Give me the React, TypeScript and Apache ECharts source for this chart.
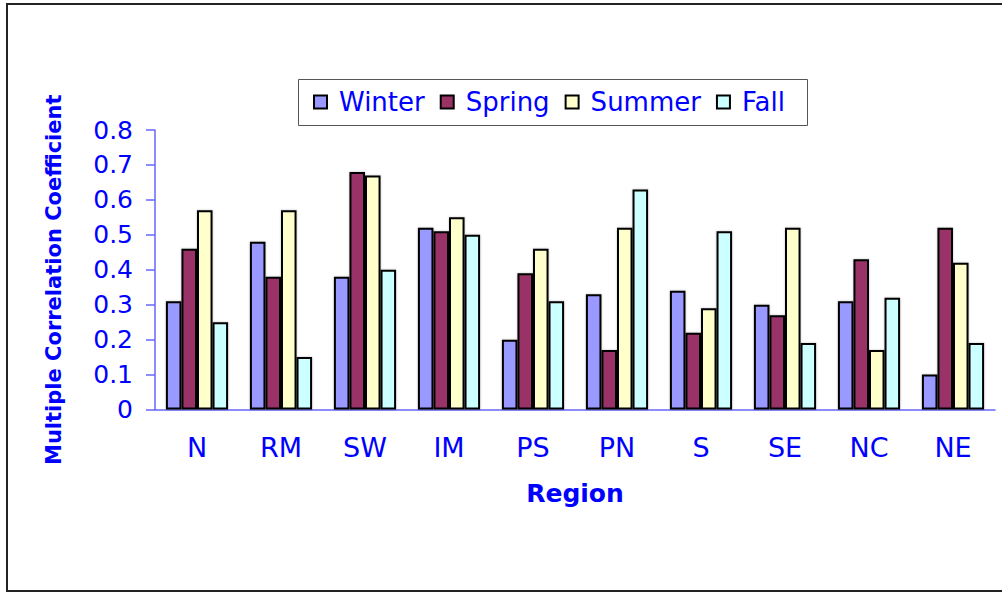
import React, { useEffect, useRef } from "react";
import * as echarts from "echarts";

const regions = ["N", "RM", "SW", "IM", "PS", "PN", "S", "SE", "NC", "NE"];
const winter = [0.31, 0.48, 0.38, 0.52, 0.2, 0.33, 0.34, 0.3, 0.31, 0.1];
const spring = [0.46, 0.38, 0.68, 0.51, 0.39, 0.17, 0.22, 0.27, 0.43, 0.52];
const summer = [0.57, 0.57, 0.67, 0.55, 0.46, 0.52, 0.29, 0.52, 0.17, 0.42];
const fall = [0.25, 0.15, 0.4, 0.5, 0.31, 0.63, 0.51, 0.19, 0.32, 0.19];

const seriesNames = ["Winter", "Spring", "Summer", "Fall"];
const seriesColors = ["#9999FF", "#993366", "#FFFFCC", "#CCFFFF"];

const FONT = "'DejaVu Sans', 'Liberation Sans', Arial, sans-serif";
const BLUE = "#0000FF";

export default function App() {
  const ref = useRef<HTMLDivElement>(null);
  useEffect(() => {
    if (!ref.current) return;
    const chart = echarts.init(ref.current, undefined, { renderer: "svg" });
    const data = [winter, spring, summer, fall];
    chart.setOption({
      animation: false,
      backgroundColor: "#FFFFFF",
      textStyle: { fontFamily: FONT },
      graphic: [
        {
          type: "rect",
          shape: { x: 7, y: 4, width: 1010, height: 587 },
          style: { fill: "none", stroke: "#222222", lineWidth: 2 },
          silent: true,
        },
        {
          type: "rect",
          shape: { x: 298.5, y: 79.5, width: 509, height: 46 },
          style: { fill: "#FFFFFF", stroke: "#555555", lineWidth: 1 },
          silent: true,
          z: 0,
        },
      ],
      legend: {
        left: 308,
        top: 83,
        itemGap: 15,
        itemWidth: 13,
        itemHeight: 13,
        icon: "rect",
        z: 10,
        itemStyle: { borderColor: "#000000", borderWidth: 2 },
        textStyle: {
          color: BLUE,
          fontSize: 26,
          fontFamily: FONT,
          lineHeight: 28,
          padding: [0, 0, 0, 7],
        },
        data: seriesNames,
      },
      grid: { left: 155, right: 7, top: 130, bottom: 184.5, containLabel: false },
      xAxis: {
        type: "category",
        data: regions,
        axisLine: { lineStyle: { color: "#6666FF", width: 1.5 } },
        axisTick: { show: false },
        axisLabel: { color: BLUE, fontSize: 27, margin: 24, fontFamily: FONT },
        name: "Region",
        nameLocation: "middle",
        nameGap: 71,
        nameTextStyle: { color: BLUE, fontSize: 25, fontWeight: "bold", fontFamily: FONT },
      },
      yAxis: {
        type: "value",
        min: 0,
        max: 0.8,
        interval: 0.1,
        splitLine: { show: false },
        axisLine: { show: true, lineStyle: { color: "#6666FF", width: 1.5 } },
        axisTick: { show: true, inside: false, length: 9, lineStyle: { color: "#6666FF", width: 1.5 } },
        axisLabel: {
          color: BLUE,
          fontSize: 25,
          margin: 22,
          fontFamily: FONT,
          formatter: (v: number) => (v === 0 ? "0" : v.toFixed(1)),
        },
        name: "Multiple Correlation Coefficient",
        nameLocation: "middle",
        nameRotate: 90,
        nameGap: 91,
        nameTextStyle: {
          color: BLUE,
          fontSize: 21,
          fontWeight: "bold",
          fontFamily: FONT,
          padding: [0, 20, 0, 0],
        },
      },
      series: seriesNames.map((name, i) => ({
        name,
        type: "bar",
        data: data[i],
        barGap: "0%",
        barCategoryGap: "26%",
        itemStyle: {
          color: seriesColors[i],
          borderColor: "#000000",
          borderWidth: 2,
          shadowColor: "rgba(0,0,0,0.25)",
          shadowBlur: 2,
        },
      })),
    });
    return () => chart.dispose();
  }, []);
  return (
    <div
      ref={ref}
      style={{ position: "fixed", left: 0, top: 0, width: 1002, height: 594 }}
    />
  );
}
